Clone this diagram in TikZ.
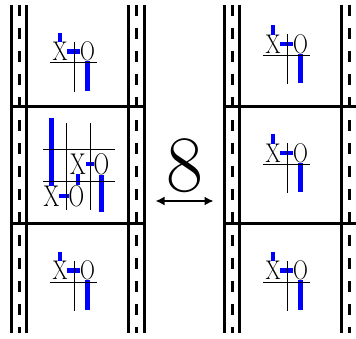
\documentclass[tikz,border=0pt]{standalone}
\usetikzlibrary{arrows.meta,backgrounds}
\tikzset{
 frameline/.style={line width=3pt},
 dashline/.style={line width=3pt, dash pattern=on 11pt off 12pt},
 gridline/.style={line width=1pt},
 bluepath/.style={blue, line width=4.6pt},
 letter/.style={fill=white, inner sep=0pt, font=\fontsize{27}{27}\selectfont},
 midletter/.style={fill=white, inner sep=0pt, font=\fontsize{30}{30}\selectfont},
}
\newcommand\fragment[3]{%
\begin{scope}[shift={(#2,#3)}]
 \node[letter] (#1x) at (0,0) {\scalebox{.8}[1]{X}};
 \node[letter] (#1o) at (27.5,0) {\scalebox{.76}[1]{O}};
 \coordinate (#1s) at (0,-18.5);
 \coordinate (#1e) at (27.5,39.5);
 \coordinate (#1vt) at (14,-9.5);
 \coordinate (#1vb) at (14,40.5);
 \coordinate (#1hl) at (-10,11.5);
 \coordinate (#1hr) at (37,11.5);
 \begin{scope}[on background layer]
  \draw[bluepath] (#1s) -- (#1x.center) -- (#1o.center) -- (#1e);
  \draw[gridline] (#1vt) -- (#1vb);
  \draw[gridline] (#1hl) -- (#1hr);
 \end{scope}
\end{scope}}
\newcommand\filmstrip[1]{%
\begin{scope}[xshift=#1]
 \draw[frameline] (11.5,5) -- (11.5,333);
 \draw[dashline] (19,5) -- (19,333);
 \draw[frameline] (26.5,5) -- (26.5,333);
 \draw[frameline] (128.5,5) -- (128.5,333);
 \draw[dashline] (136.5,5) -- (136.5,333);
 \draw[frameline] (144,5) -- (144,333);
 \draw[frameline] (10,107) -- (145.5,107);
 \draw[frameline] (10,224) -- (145.5,224);
\end{scope}}
\begin{document}
\begin{tikzpicture}[x=1pt,y=-1pt]
\useasboundingbox (0,0) rectangle (356,339);
\clip (0,0) rectangle (356,339);
\filmstrip{0pt}
\filmstrip{213pt}
% left strip fragments
\fragment{lt}{60}{51.5}
\fragment{lb}{60}{270.5}
% right strip fragments
\fragment{rt}{273}{44}
\fragment{rm}{273}{153}
\fragment{rb}{273}{270.5}
% left middle cell: larger board
\node[midletter] (mxa) at (51.5,196) {\scalebox{.75}[1]{X}};
\node[midletter] (moa) at (76.5,196) {\scalebox{.72}[1]{O}};
\node[midletter] (mxb) at (78,164) {\scalebox{.75}[1]{X}};
\node[midletter] (mob) at (101.5,164) {\scalebox{.72}[1]{O}};
\coordinate (ms) at (51.5,118);
\coordinate (me) at (101.5,212);
\coordinate (g1t) at (66,123); \coordinate (g1b) at (66,210);
\coordinate (g2t) at (90,123); \coordinate (g2b) at (90,210);
\coordinate (g3l) at (43,150); \coordinate (g3r) at (115,150);
\coordinate (g4l) at (43,182); \coordinate (g4r) at (115,182);
\begin{scope}[on background layer]
 \draw[bluepath] (ms) -- (mxa.center) -- (moa.center) -| (mxb.center) -- (mob.center) -- (me);
 \draw[gridline] (g1t) -- (g1b);
 \draw[gridline] (g2t) -- (g2b);
 \draw[gridline] (g3l) -- (g3r);
 \draw[gridline] (g4l) -- (g4r);
\end{scope}
% centre: number and double arrow
\node[inner sep=0pt, font=\fontsize{80}{80}\selectfont] (eight) at (184.5,165.5) {8};
\coordinate (al) at (155.5,201);
\coordinate (ar) at (213.5,201);
\draw[line width=1.6pt, {Latex[length=9pt,width=9pt]}-{Latex[length=9pt,width=9pt]}] (al) -- (ar);
\end{tikzpicture}
\end{document}
